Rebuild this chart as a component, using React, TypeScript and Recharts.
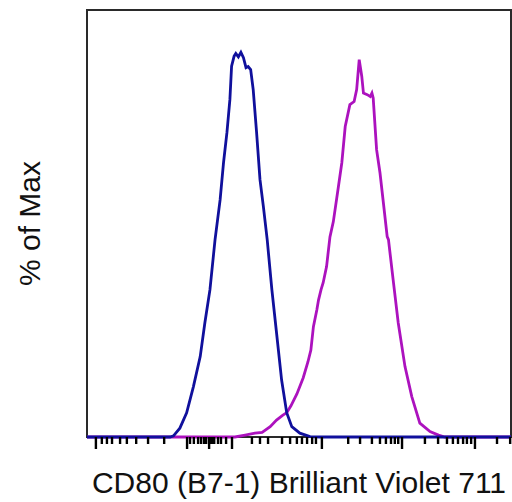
import { LineChart, Line, XAxis, YAxis, ReferenceArea } from 'recharts'

// channel positions (0-1000) and % of max
const blueX = [0, 196, 204, 219, 235, 251, 267, 278, 290, 302, 314, 322, 330, 337, 341, 347, 351, 357, 363, 369, 375, 380, 386, 392, 400, 408, 416, 425, 436, 447, 459, 471, 483, 502, 526, 550, 1000]
const blueY = [0, 0, 0.3, 2.3, 6.3, 13.1, 20.9, 29.7, 38.3, 51.3, 61.7, 71.3, 79.1, 87.7, 96.4, 99.0, 99.7, 98.8, 100, 98.6, 96.0, 96.3, 95.5, 90.3, 79.1, 66.9, 59.9, 51.3, 38.3, 27.1, 14.8, 6.3, 2.7, 1.0, 0.1, 0, 0]

const magentaX = [0, 349, 373, 396, 413, 432, 447, 462, 471, 481, 495, 510, 521, 528, 534, 542, 546, 552, 557, 565, 573, 581, 593, 601, 609, 620, 630, 636, 642, 648, 652, 661, 668, 672, 675, 683, 691, 699, 708, 711, 722, 734, 750, 766, 785, 809, 829, 844, 1000]
const magentaY = [0, 0, 0.5, 1.0, 1.2, 2.7, 4.4, 5.7, 6.3, 8.1, 11.2, 15.4, 19.5, 22.6, 28.7, 33.0, 35.6, 38.3, 40.1, 44.3, 52.0, 56.0, 65.1, 71.3, 80.7, 86.4, 87.2, 90.3, 98.1, 93.8, 89.4, 89.0, 88.5, 89.4, 88.1, 74.7, 68.7, 60.9, 52.1, 51.3, 40.9, 29.7, 18.3, 10.5, 3.6, 1.4, 0.5, 0, 0]

// biexponential axis ticks (channel units)
const majorTicks = [21, 236, 288, 342, 554, 743, 915]
const minorTicks = [35, 47, 59, 78, 94, 116, 144, 182, 243, 252, 262, 269, 276, 281, 290, 295, 300, 309, 316, 328, 389, 408, 427, 460, 479, 495, 507, 519, 531, 540, 616, 644, 672, 691, 705, 717, 726, 734, 797, 828, 849, 863, 875, 887, 896, 906, 967, 998]

const blueData = blueX.map((x, i) => ({ x, y: blueY[i] }))
const magentaData = magentaX.map((x, i) => ({ x, y: magentaY[i] }))
const allTicks = [...minorTicks, ...majorTicks].sort((a, b) => a - b)

const FONT = '"Liberation Sans", Arial, sans-serif'

const AxisTick = (props: any) => {
  const { x, y, payload } = props
  const len = majorTicks.includes(payload.value) ? 12 : 7
  return <line x1={x} x2={x} y1={y} y2={y + len} stroke="#000" strokeWidth={2.4} />
}

export default function App() {
  return (
    <div style={{ position: 'absolute', left: 0, top: 0, width: 512, height: 502, background: '#fff' }}>
      <LineChart width={512} height={502} margin={{ top: 10, right: 1, bottom: 35, left: 0 }}>
        <ReferenceArea x1={0} x2={1000} y1={0} y2={111} fill="none" stroke="#2a2a2a" strokeWidth={2} ifOverflow="visible" />
        <XAxis
          type="number"
          dataKey="x"
          domain={[0, 1000]}
          ticks={allTicks}
          interval={0}
          height={30}
          tickSize={0}
          tickMargin={0}
          tickLine={false}
          axisLine={false}
          tick={<AxisTick />}
          label={{ value: 'CD80 (B7-1) Brilliant Violet 711', position: 'bottom', offset: 5, fill: '#111', fontSize: 30, fontFamily: FONT }}
        />
        <YAxis
          type="number"
          domain={[0, 111]}
          width={87}
          tick={false}
          tickLine={false}
          axisLine={false}
          label={{ value: '% of Max', angle: -90, position: 'insideLeft', offset: 29, fill: '#111', fontSize: 30, fontFamily: FONT, style: { textAnchor: 'middle' } }}
        />
        <Line data={magentaData} dataKey="y" type="linear" stroke="#ac12be" strokeWidth={2.8} dot={false} isAnimationActive={false} />
        <Line data={blueData} dataKey="y" type="linear" stroke="#10109c" strokeWidth={2.8} dot={false} isAnimationActive={false} />
      </LineChart>
    </div>
  )
}
